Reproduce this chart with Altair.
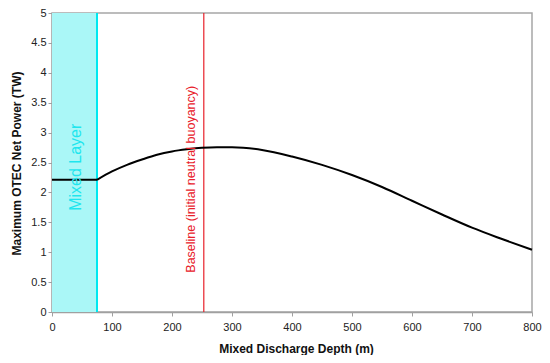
import altair as alt
import pandas as pd

depth = [0, 75, 75, 100, 125, 150, 175, 200, 225, 250, 275, 300, 350, 400, 450, 500, 550, 600, 650, 700, 750, 800]
power = [2.21, 2.21, 2.21, 2.35, 2.46, 2.55, 2.63, 2.685, 2.72, 2.745, 2.755, 2.755, 2.71, 2.60, 2.46, 2.29, 2.09, 1.86, 1.63, 1.41, 1.22, 1.04]
segment = ["mixed", "mixed"] + ["below"] * 20

mixed_layer = [0, 75]
baseline_depth = 253

FONT = "Liberation Sans"

curve = pd.DataFrame({"depth": depth, "power": power, "seg": segment})
layer_df = pd.DataFrame({"x": [mixed_layer[0]], "x2": [mixed_layer[1]], "y": [0], "y2": [5]})
ml_edge = pd.DataFrame({"x": [mixed_layer[1]]})
base_df = pd.DataFrame({"x": [baseline_depth]})
txt_ml = pd.DataFrame({"x": [40], "y": [2.42], "t": ["Mixed Layer"]})
txt_base = pd.DataFrame({"x": [232], "y": [2.22], "t": ["Baseline (initial neutral buoyancy)"]})

xscale = alt.Scale(domain=[0, 800], nice=False)
yscale = alt.Scale(domain=[0, 5], nice=False)

xaxis = alt.Axis(title="Mixed Discharge Depth (m)", values=list(range(0, 801, 100)),
                 titleX=244, titleY=36, titleBaseline="middle", titleAlign="center")
yaxis = alt.Axis(title="Maximum OTEC Net Power (TW)", values=[i * 0.5 for i in range(11)],
                 format="~g", titleX=-36, titleY=150, titleBaseline="middle",
                 titleAlign="center", titleAngle=-90)

X = lambda f: alt.X(f, scale=xscale, axis=xaxis)
Y = lambda f: alt.Y(f, scale=yscale, axis=yaxis)

rect = alt.Chart(layer_df).mark_rect(color="#aaf7f7").encode(
    x=X("x:Q"), x2="x2:Q", y=Y("y:Q"), y2="y2:Q")

edge = alt.Chart(ml_edge).mark_rule(color="#00e8f0", strokeWidth=2).encode(x=X("x:Q"))

base = alt.Chart(base_df).mark_rule(color="#e8202a", strokeWidth=1.2).encode(x=X("x:Q"))

line = alt.Chart(curve).mark_line(color="black", strokeWidth=2, interpolate="monotone").encode(
    x=X("depth:Q"), y=Y("power:Q"), detail="seg:N")

t1 = alt.Chart(txt_ml).mark_text(angle=270, font=FONT, fontSize=16, color="#1ee6ee",
                                  align="center", baseline="middle").encode(
    x=X("x:Q"), y=Y("y:Q"), text="t:N")

t2 = alt.Chart(txt_base).mark_text(angle=270, font=FONT, fontSize=12.5, color="#e8202a",
                                    align="center", baseline="middle").encode(
    x=X("x:Q"), y=Y("y:Q"), text="t:N")

chart = alt.layer(rect, edge, base, line, t1, t2).properties(
    width=480, height=299,
    autosize=alt.AutoSizeParams(type="none"),
    padding={"left": 44, "top": 5, "right": 10, "bottom": 43},
).configure_view(stroke="#a6a6a6", strokeWidth=1.5).configure_axis(
    grid=False, domainColor="#a0a0a0", tickColor="#a0a0a0", domainWidth=1.5,
    tickSize=4, labelPadding=2, labelFont=FONT, labelFontSize=11, labelColor="#222222",
    labelOverlap=False, labelFlush=False,
    titleFont=FONT, titleFontSize=12, titleFontWeight="bold", titleColor="#111111"
).configure_axisX(labelPadding=5)

chart.save("out.html", embed_options={"renderer": "svg", "actions": False})
